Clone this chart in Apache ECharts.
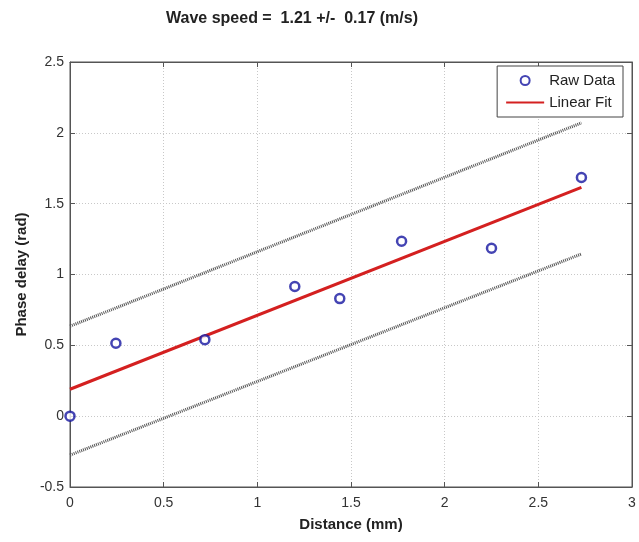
<!DOCTYPE html>
<html>
<head>
<meta charset="utf-8">
<script src="https://cdn.jsdelivr.net/npm/echarts@6/dist/echarts.min.js"></script>
<style>
  html, body { margin: 0; padding: 0; background: #fff; }
  #chart { width: 639px; height: 542px; }
</style>
</head>
<body>
<div id="chart"></div>
<script>
// measured points
const distance = [0, 0.245, 0.72, 1.2, 1.44, 1.77, 2.25, 2.73];
const phaseDelay = [0, 0.515, 0.54, 0.915, 0.83, 1.235, 1.185, 1.685];
// fit line and confidence bounds (endpoints)
const fitX = [0, 2.73];
const fitY = [0.19, 1.615];
const upperY = [0.635, 2.07];
const lowerY = [-0.275, 1.145];
const xTicks = [0, 0.5, 1, 1.5, 2, 2.5, 3];
const yTicks = [-0.5, 0, 0.5, 1, 1.5, 2, 2.5];

const pair = (xs, ys) => xs.map((x, i) => [x, ys[i]]);

const chart = echarts.init(document.getElementById('chart'));
const font = 'Liberation Sans, Arial, sans-serif';
const gridLine = { show: true, lineStyle: { color: '#c8c8c8', type: [1, 2], width: 1 } };
const edge = { show: true, onZero: false, lineStyle: { color: '#555' } };
const tick = { show: true, inside: true, length: 5, lineStyle: { color: '#555' } };

chart.setOption({
  animation: false,
  title: {
    text: 'Wave speed =  1.21 +/-  0.17 (m/s)',
    left: 287, top: 6, textAlign: 'center',
    textStyle: { fontFamily: font, fontSize: 16, fontWeight: 'bold', color: '#222' }
  },
  legend: {
    orient: 'vertical',
    right: 16, top: 66,
    padding: [7, 8, 7, 8],
    itemGap: 7,
    itemWidth: 38, itemHeight: 9,
    backgroundColor: '#fff',
    borderColor: '#444', borderWidth: 1,
    textStyle: { fontFamily: font, fontSize: 15, color: '#222' },
    data: ['Raw Data', { name: 'Linear Fit', itemStyle: { opacity: 0 } }]
  },
  grid: { left: 70, top: 62, right: 7, bottom: 55, show: true, borderColor: '#555', borderWidth: 1 },
  xAxis: [{
    type: 'value', min: 0, max: 3, interval: 0.5,
    name: 'Distance (mm)', nameLocation: 'middle', nameGap: 30,
    nameTextStyle: { fontFamily: font, fontSize: 15, fontWeight: 'bold', color: '#222' },
    axisLine: edge, axisTick: tick,
    axisLabel: { fontFamily: font, fontSize: 14, color: '#333', margin: 9,
      formatter: v => xTicks.includes(v) ? String(v) : '' },
    splitLine: gridLine
  }, {
    type: 'value', min: 0, max: 3, interval: 0.5, position: 'top',
    axisLine: edge, axisTick: tick,
    axisLabel: { show: false }, splitLine: { show: false }
  }],
  yAxis: [{
    type: 'value', min: -0.5, max: 2.5, interval: 0.5,
    name: 'Phase delay (rad)', nameLocation: 'middle', nameGap: 40,
    nameTextStyle: { fontFamily: font, fontSize: 15, fontWeight: 'bold', color: '#222' },
    axisLine: edge, axisTick: tick,
    axisLabel: { fontFamily: font, fontSize: 14, color: '#333', margin: 6,
      formatter: v => yTicks.includes(v) ? String(v) : '' },
    splitLine: gridLine
  }, {
    type: 'value', min: -0.5, max: 2.5, interval: 0.5, position: 'right',
    axisLine: edge, axisTick: tick,
    axisLabel: { show: false }, splitLine: { show: false }
  }],
  series: [
    {
      name: 'upper', type: 'line', data: pair(fitX, upperY), symbol: 'none',
      lineStyle: { color: '#555', width: 3, type: [1, 1] }, z: 2
    },
    {
      name: 'lower', type: 'line', data: pair(fitX, lowerY), symbol: 'none',
      lineStyle: { color: '#555', width: 3, type: [1, 1] }, z: 2
    },
    {
      name: 'Linear Fit', type: 'line', data: pair(fitX, fitY), symbol: 'none',
      itemStyle: { color: '#d42020' },
      lineStyle: { color: '#d42020', width: 3 }, z: 3
    },
    {
      name: 'Raw Data', type: 'scatter', data: pair(distance, phaseDelay),
      symbol: 'circle', symbolSize: 9,
      itemStyle: { color: '#fff', borderColor: '#1515a0', borderWidth: 2.5 }, z: 4
    }
  ]
});
</script>
</body>
</html>
